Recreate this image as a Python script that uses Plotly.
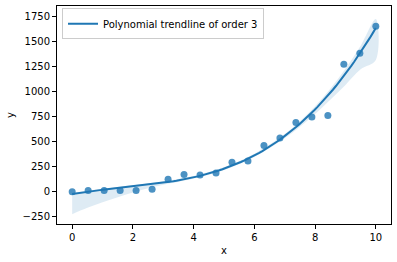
import numpy as np
import plotly.graph_objects as go

# Data
x_vals = [0.0, 0.526, 1.053, 1.579, 2.105, 2.632, 3.158, 3.684, 4.211, 4.737,
          5.263, 5.789, 6.316, 6.842, 7.368, 7.895, 8.421, 8.947, 9.474, 10.0]
y_vals = [0, 13, 13, 13, 13, 24, 125, 172, 166, 186,
          292, 305, 461, 535, 690, 744, 760, 1270, 1378, 1648]

# Confidence band (distance below / above the trendline)
band_x = [0, 0.5, 1, 1.5, 2, 2.5, 3, 4, 5, 6, 7, 7.5, 8, 8.5, 9, 9.5, 10]
band_below = [200, 160, 125, 90, 60, 35, 20, 12, 12, 15, 22, 30, 45, 70, 110, 170, 320]
band_above = [10, 10, 10, 11, 12, 13, 15, 15, 15, 18, 22, 26, 32, 40, 50, 65, 90]

legend_label = "Polynomial trendline of order 3"

coef = np.polyfit(x_vals, y_vals, 3)
xs = np.linspace(0, 10, 100)
ys = np.polyval(coef, xs)
bx = np.array(band_x)
bfit = np.polyval(coef, bx)
lo = bfit - np.array(band_below)
hi = bfit + np.array(band_above)

blue = "#1f77b4"
fig = go.Figure()
fig.add_trace(go.Scatter(
    x=list(bx) + list(bx[::-1]), y=list(hi) + list(lo[::-1]),
    fill="toself", fillcolor="rgba(31,119,180,0.15)", line=dict(width=0, shape="spline"),
    mode="lines", showlegend=False, hoverinfo="skip"))
fig.add_trace(go.Scatter(
    x=x_vals, y=y_vals, mode="markers",
    marker=dict(color="rgba(31,119,180,0.8)", size=7, line=dict(width=0)),
    showlegend=False))
fig.add_trace(go.Scatter(
    x=xs, y=ys, mode="lines", line=dict(color=blue, width=2),
    name=legend_label))

axis_common = dict(
    showline=True, linecolor="black", linewidth=1, mirror=True,
    ticks="outside", ticklen=4, tickcolor="black", tickwidth=1,
    showgrid=False, zeroline=False,
    tickfont=dict(family="DejaVu Sans", size=10, color="black"),
)
fig.update_xaxes(range=[-0.5, 10.5], tickvals=[0, 2, 4, 6, 8, 10],
                 title=dict(text="x", font=dict(family="DejaVu Sans", size=10, color="black"), standoff=4),
                 **axis_common)
fig.update_yaxes(range=[-322, 1850], tickvals=[-250, 0, 250, 500, 750, 1000, 1250, 1500, 1750],
                 ticktext=["\u2212250", "0", "250", "500", "750", "1000", "1250", "1500", "1750"],
                 title=dict(text="y", font=dict(family="DejaVu Sans", size=10, color="black"), standoff=6),
                 **axis_common)
fig.update_layout(
    width=397, height=262,
    margin=dict(l=57, r=6, t=6, b=38),
    paper_bgcolor="white", plot_bgcolor="white",
    font=dict(family="DejaVu Sans", size=10, color="black"),
    legend=dict(x=0.015, y=0.99, xanchor="left", yanchor="top",
                bgcolor="rgba(255,255,255,0.8)", bordercolor="#cccccc", borderwidth=1,
                font=dict(family="DejaVu Sans", size=10, color="black"),
                itemwidth=30, tracegroupgap=0),
)
fig.write_html("out.html")
